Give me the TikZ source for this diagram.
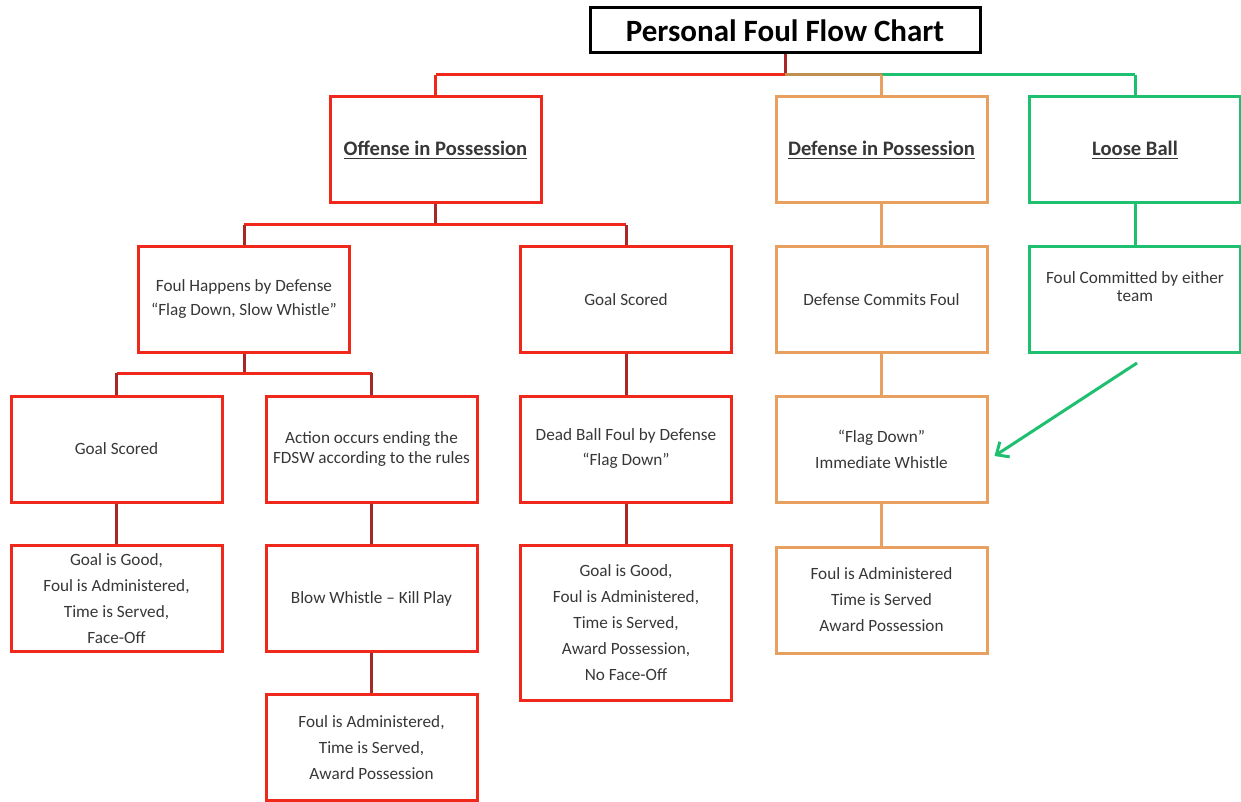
\documentclass[tikz,border=0pt]{standalone}
\usepackage{fontspec}
\setmainfont{Carlito}
\usetikzlibrary{arrows.meta}

\definecolor{boxred}{RGB}{240,40,28}
\definecolor{linered}{RGB}{168,40,40}
\definecolor{boxorange}{RGB}{232,160,96}
\definecolor{boxgreen}{RGB}{30,192,112}
\definecolor{busolive}{RGB}{192,144,80}
\definecolor{txt}{RGB}{55,55,55}

\tikzset{
  box/.style={draw, line width=1.5pt, minimum width=105.5pt, minimum height=53pt,
    align=center, text=txt, font=\fontsize{8.6}{13}\selectfont, inner sep=2pt},
  redbox/.style={box, draw=boxred},
  orangebox/.style={box, draw=boxorange},
  greenbox/.style={box, draw=boxgreen},
  headbox/.style={font=\fontsize{10.3}{12}\bfseries\selectfont},
  vred/.style={draw=linered, line width=1.5pt},
  hred/.style={draw=boxred, line width=1.5pt},
  vorange/.style={draw=boxorange, line width=1.5pt},
  vgreen/.style={draw=boxgreen, line width=1.5pt}
}

\begin{document}
\begin{tikzpicture}[x=0.5pt, y=-0.5pt]
    \useasboundingbox (0,0) rectangle (1241,802);
    % Title
    \node[draw=black, line width=1.5pt, minimum width=195pt, minimum height=22.5pt,
      font=\fontsize{15.5}{17}\bfseries\selectfont] (title) at (785,30.5) {Personal Foul Flow Chart};
    % Top row
    \node[redbox, headbox] (off) at (435.5,150) {\underline{Offense in Possession}};
    \node[orangebox, headbox] (def) at (881.5,150) {\underline{Defense in Possession}};
    \node[greenbox, headbox] (loose) at (1135,150) {\underline{Loose Ball}};
    % Second row
    \node[redbox, font=\fontsize{8.6}{12}\selectfont] (fh) at (244,299.5) {Foul Happens by Defense\\``Flag Down, Slow Whistle''};
    \node[redbox] (gs1) at (626,299.5) {Goal Scored};
    \node[orangebox] (dcf) at (881.5,299.5) {Defense Commits Foul};
    \node[greenbox, font=\fontsize{8.6}{9}\selectfont] (fce) at (1135,299.5) {Foul Committed by either\\team\\[4pt]};
    % Third row
    \node[redbox] (gs2) at (116.5,449) {Goal Scored};
    \node[redbox, font=\fontsize{8.6}{10}\selectfont] (act) at (371.5,449) {Action occurs ending the\\FDSW according to the rules};
    \node[redbox, font=\fontsize{8.6}{12.5}\selectfont] (dbf) at (626,449) {Dead Ball Foul by Defense\\``Flag Down''};
    \node[orangebox] (fdiw) at (881.5,449) {``Flag Down''\\Immediate Whistle};
    % Fourth row
    \node[redbox] (gig1) at (116.5,598.5) {Goal is Good,\\Foul is Administered,\\Time is Served,\\Face-Off};
    \node[redbox] (bw) at (371.5,598.5) {Blow Whistle -- Kill Play};
    \node[redbox, minimum height=77.5pt] (gig2) at (626,622.5) {Goal is Good,\\Foul is Administered,\\Time is Served,\\Award Possession,\\No Face-Off};
    \node[orangebox] (fia2) at (881.5,600) {Foul is Administered\\Time is Served\\Award Possession};
    % Fifth row
    \node[redbox] (fia1) at (371.5,747.5) {Foul is Administered,\\Time is Served,\\Award Possession};
    % Bus points
    \coordinate (b1) at (785,75);
    \coordinate (b2) at (435.5,225);
    \coordinate (b3) at (244,373);
    % Top bus
    \draw[vred] (title.south) -- (b1);
    \draw[hred] (b1) -- (off.north |- b1);
    \draw[draw=busolive, line width=1.5pt] (b1) -- (def.north |- b1);
    \draw[vgreen] (def.north |- b1) -- (loose.north |- b1);
    \draw[hred] (off.north |- b1) -- (off.north);
    \draw[vorange] (def.north |- b1) -- (def.north);
    \draw[vgreen] (loose.north |- b1) -- (loose.north);
    % Offense bus
    \draw[vred] (off.south) -- (b2);
    \draw[hred] (fh.north |- b2) -- (gs1.north |- b2);
    \foreach \n in {fh,gs1} {
      \draw[vred] (\n.north |- b2) -- (\n.north);
    }
    % Slow whistle bus
    \draw[vred] (fh.south) -- (b3);
    \draw[hred] (gs2.north |- b3) -- (act.north |- b3);
    \foreach \n in {gs2,act} {
      \draw[vred] (\n.north |- b3) -- (\n.north);
    }
    % Straight links
    \foreach \a/\b in {gs1/dbf,dbf/gig2,gs2/gig1,act/bw,bw/fia1} {
      \draw[vred] (\a.south) -- (\b.north);
    }
    \foreach \a/\b in {def/dcf,dcf/fdiw,fdiw/fia2} {
      \draw[vorange] (\a.south) -- (\b.north);
    }
    \draw[vgreen] (loose.south) -- (fce.north);
    % Loose ball arrow
    \coordinate (ls) at (1137,363);
    \draw[vgreen, -{Straight Barb[length=5pt,width=9pt]}] (ls) -- ([xshift=3pt,yshift=-3.5pt]fdiw.east);
  \end{tikzpicture}
\end{document}
